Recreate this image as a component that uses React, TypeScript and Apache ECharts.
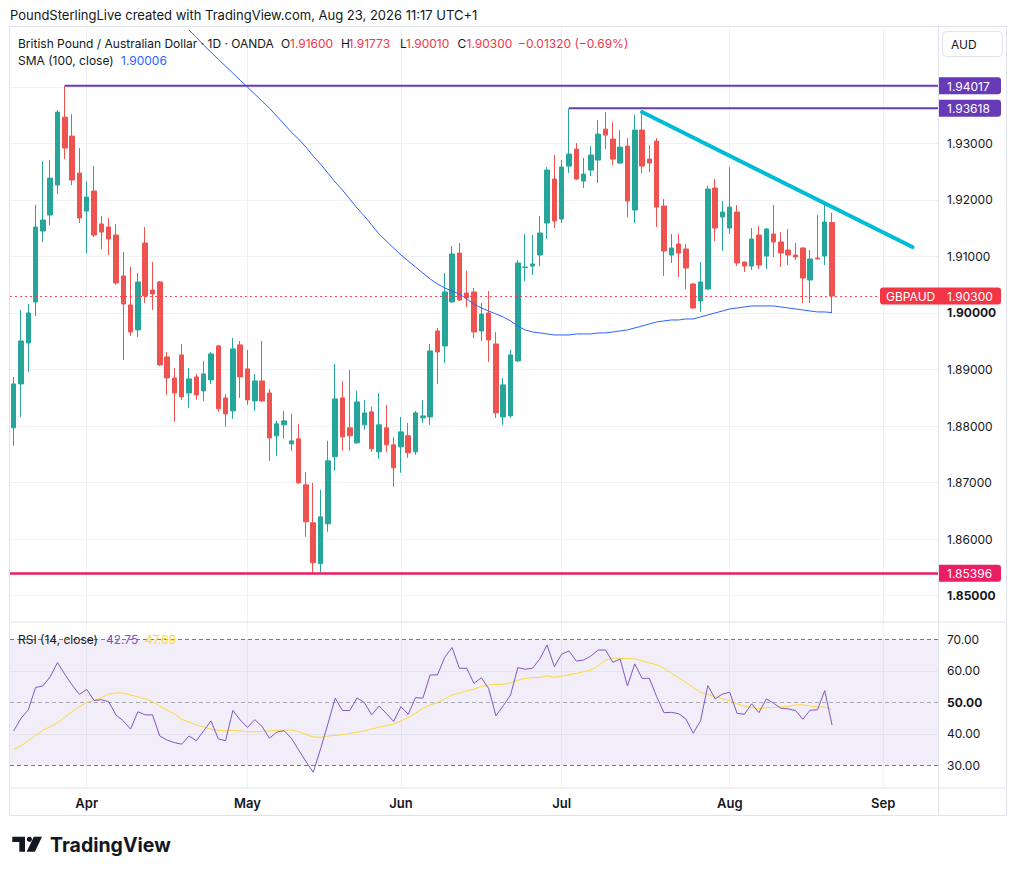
import React, { useEffect, useRef } from "react";
import * as echarts from "echarts";

const FONT = "Inter, 'Noto Sans', sans-serif";
const TEXT = "#131722";
const UP = "#26a69a";
const DOWN = "#ef5350";

// ---- categories ----
const startDate = [2026, 2, 18]; // 18 Mar 2026 (UTC)
const futureBars = 14;
const monthAbbr = ["Jan", "Feb", "Mar", "Apr", "May", "Jun", "Jul", "Aug", "Sep", "Oct", "Nov", "Dec"];

// ---- daily candles: [open, high, low, close] ----
const candles: number[][] = [
  [1.87968, 1.88869, 1.8765, 1.88745],
  [1.88745, 1.90053, 1.88162, 1.89505],
  [1.8947, 1.90159, 1.88957, 1.9],
  [1.90194, 1.91908, 1.89947, 1.9152],
  [1.91449, 1.92686, 1.91255, 1.91643],
  [1.91732, 1.92704, 1.91555, 1.92385],
  [1.92262, 1.93587, 1.92103, 1.93552],
  [1.93463, 1.94017, 1.92721, 1.92916],
  [1.93128, 1.93516, 1.92262, 1.9235],
  [1.92474, 1.92916, 1.9159, 1.91679],
  [1.91802, 1.92332, 1.9106, 1.9205],
  [1.92156, 1.92597, 1.91343, 1.91378],
  [1.91573, 1.91714, 1.91131, 1.91431],
  [1.9152, 1.91679, 1.91025, 1.91308],
  [1.91378, 1.91573, 1.905, 1.9053],
  [1.90654, 1.91078, 1.8917, 1.90159],
  [1.90141, 1.90813, 1.89594, 1.89664],
  [1.897, 1.90707, 1.89576, 1.90548],
  [1.91237, 1.9152, 1.90177, 1.903],
  [1.90406, 1.90901, 1.90053, 1.90336],
  [1.90548, 1.90565, 1.89063, 1.89081],
  [1.89223, 1.89311, 1.88551, 1.88851],
  [1.88851, 1.89028, 1.88074, 1.88586],
  [1.89258, 1.89452, 1.88463, 1.88516],
  [1.88586, 1.89028, 1.88321, 1.88834],
  [1.88869, 1.88922, 1.88463, 1.88551],
  [1.88622, 1.89152, 1.88445, 1.88922],
  [1.88816, 1.89311, 1.88745, 1.89276],
  [1.89417, 1.89435, 1.88251, 1.88304],
  [1.88498, 1.88569, 1.87986, 1.88215],
  [1.88268, 1.89558, 1.88127, 1.89364],
  [1.89435, 1.89505, 1.88498, 1.88869],
  [1.89011, 1.89346, 1.88374, 1.88463],
  [1.88445, 1.88922, 1.88268, 1.88798],
  [1.88798, 1.89505, 1.88427, 1.88445],
  [1.88586, 1.88657, 1.87385, 1.87791],
  [1.87827, 1.88092, 1.87473, 1.88039],
  [1.88021, 1.88268, 1.87774, 1.88092],
  [1.87685, 1.88215, 1.87561, 1.87738],
  [1.87774, 1.88039, 1.86978, 1.86996],
  [1.86961, 1.8719, 1.86042, 1.86307],
  [1.86289, 1.86996, 1.85396, 1.85583],
  [1.85565, 1.86872, 1.8542, 1.86395],
  [1.86272, 1.87738, 1.8613, 1.87385],
  [1.87456, 1.89099, 1.87208, 1.8848],
  [1.88498, 1.88798, 1.87561, 1.87809],
  [1.87968, 1.88993, 1.87561, 1.87827],
  [1.87703, 1.88622, 1.87685, 1.88427],
  [1.88021, 1.88463, 1.87933, 1.88233],
  [1.88251, 1.88339, 1.87544, 1.87597],
  [1.87544, 1.88586, 1.8742, 1.88021],
  [1.87968, 1.88374, 1.87544, 1.87668],
  [1.87668, 1.87809, 1.86926, 1.87261],
  [1.87632, 1.88162, 1.87173, 1.87897],
  [1.87827, 1.88056, 1.87438, 1.87526],
  [1.87544, 1.88268, 1.87491, 1.88233],
  [1.88145, 1.88463, 1.88056, 1.8818],
  [1.88162, 1.89452, 1.88021, 1.89329],
  [1.89682, 1.89735, 1.88745, 1.89311],
  [1.89417, 1.90707, 1.89117, 1.90371],
  [1.90194, 1.91184, 1.9018, 1.91043],
  [1.9106, 1.91237, 1.90212, 1.9023],
  [1.90353, 1.90742, 1.90106, 1.90265],
  [1.90371, 1.90442, 1.89558, 1.89664],
  [1.89682, 1.90177, 1.89505, 1.89982],
  [1.9, 1.90389, 1.89134, 1.89523],
  [1.89452, 1.89664, 1.88145, 1.88233],
  [1.88162, 1.88851, 1.88021, 1.88728],
  [1.8818, 1.89346, 1.88145, 1.89258],
  [1.89152, 1.90937, 1.89134, 1.90884],
  [1.90804, 1.91396, 1.90565, 1.90813],
  [1.9083, 1.91378, 1.90671, 1.90866],
  [1.91025, 1.91714, 1.9083, 1.91414],
  [1.9159, 1.9258, 1.91308, 1.92527],
  [1.92368, 1.92792, 1.91502, 1.91626],
  [1.91661, 1.92704, 1.9159, 1.9258],
  [1.92597, 1.93618, 1.92474, 1.9281],
  [1.92898, 1.93004, 1.9235, 1.92368],
  [1.92332, 1.92739, 1.92209, 1.92456],
  [1.92527, 1.92951, 1.92421, 1.92792],
  [1.92704, 1.9341, 1.92297, 1.93163],
  [1.93251, 1.93552, 1.92898, 1.93145],
  [1.93075, 1.93375, 1.92615, 1.92721],
  [1.92651, 1.93234, 1.9264, 1.92933],
  [1.92951, 1.93092, 1.91696, 1.91979],
  [1.9182, 1.93499, 1.9159, 1.93234],
  [1.93234, 1.9357, 1.92474, 1.92597],
  [1.92721, 1.92969, 1.92491, 1.92651],
  [1.93039, 1.93092, 1.9152, 1.91873],
  [1.91891, 1.92014, 1.90654, 1.91096],
  [1.91025, 1.91396, 1.90884, 1.91149],
  [1.91219, 1.91396, 1.90636, 1.9106],
  [1.91131, 1.91219, 1.90424, 1.90795],
  [1.90512, 1.9053, 1.90071, 1.90088],
  [1.90212, 1.90901, 1.90018, 1.90548],
  [1.90424, 1.92244, 1.90406, 1.92191],
  [1.92209, 1.92368, 1.91272, 1.91502],
  [1.91696, 1.91979, 1.91096, 1.91785],
  [1.91502, 1.9258, 1.91396, 1.91873],
  [1.91785, 1.91908, 1.9083, 1.90884],
  [1.90901, 1.90905, 1.90724, 1.9083],
  [1.9083, 1.91502, 1.9076, 1.91308],
  [1.91378, 1.91537, 1.90777, 1.90848],
  [1.91007, 1.91502, 1.90777, 1.91484],
  [1.91396, 1.91908, 1.9099, 1.91255],
  [1.91255, 1.91431, 1.90813, 1.9106],
  [1.91113, 1.91484, 1.90848, 1.91025],
  [1.91025, 1.91237, 1.90937, 1.9099],
  [1.91149, 1.9116, 1.90177, 1.90618],
  [1.90583, 1.91113, 1.90177, 1.90954],
  [1.90972, 1.91732, 1.9095, 1.90954],
  [1.91007, 1.91926, 1.90848, 1.91608],
  [1.916, 1.91773, 1.9001, 1.903],
];

// ---- SMA(100, close) (null = above the pane) ----
const sma100: (number | null)[] = [
  null, null, null, null, null, null, null, null, null, null,
  null, null, null, null, null, null, null, null, null, null,
  null, null, null, null, 1.95001, 1.94877, 1.94736, 1.94612, 1.94488, 1.94364,
  1.94241, 1.94117, 1.93993, 1.9387, 1.93746, 1.93622, 1.93481, 1.9334, 1.93198, 1.93075,
  1.92933, 1.92774, 1.92633, 1.92474, 1.92315, 1.92173, 1.92014, 1.91855, 1.91714, 1.91555,
  1.91396, 1.91272, 1.91149, 1.91025, 1.90919, 1.90813, 1.90707, 1.90601, 1.90512, 1.90442,
  1.90389, 1.90336, 1.90247, 1.90159, 1.90088, 1.90035, 1.89982, 1.89929, 1.89859, 1.8977,
  1.897, 1.89664, 1.89647, 1.89629, 1.89611, 1.89611, 1.89611, 1.89629, 1.89629, 1.89629,
  1.89647, 1.89647, 1.89664, 1.89682, 1.897, 1.89735, 1.8977, 1.89806, 1.89841, 1.89859,
  1.89876, 1.89876, 1.89894, 1.89894, 1.89929, 1.89965, 1.9, 1.90035, 1.90071, 1.90088,
  1.90106, 1.90124, 1.90124, 1.90124, 1.90124, 1.90106, 1.90088, 1.90071, 1.90053, 1.90035,
  1.90018, 1.90018, 1.90006,
];

// ---- RSI(14) and its moving average ----
const rsi14: number[] = [
  40.9, 44.9, 47.6, 54.7, 55.2, 58.1, 62.6, 58.9, 55.5, 52.5,
  54.1, 50.6, 50.8, 50.2, 46.0, 44.1, 41.5, 47.0, 46.0, 46.0,
  39.3, 38.0, 37.2, 36.7, 39.3, 37.8, 40.9, 44.1, 38.4, 37.8,
  47.4, 44.4, 42.0, 44.5, 42.3, 38.6, 40.5, 41.0, 38.6, 34.9,
  31.2, 27.8, 35.2, 43.1, 51.3, 47.4, 47.4, 51.4, 49.9, 46.0,
  48.8, 46.5, 43.9, 48.6, 46.2, 51.5, 51.3, 58.7, 58.7, 64.3,
  67.4, 60.8, 60.8, 56.0, 57.8, 54.4, 45.7, 48.9, 52.3, 61.0,
  60.5, 60.8, 63.7, 68.2, 61.3, 65.3, 66.3, 63.1, 63.4, 64.7,
  66.6, 66.6, 62.7, 63.7, 55.2, 62.2, 57.6, 57.6, 51.8, 46.7,
  46.8, 46.4, 44.7, 40.2, 44.1, 55.3, 51.1, 52.6, 53.2, 46.5,
  46.2, 49.5, 46.7, 51.1, 49.7, 48.1, 47.9, 47.4, 44.6, 47.5,
  47.6, 53.7, 42.75,
];
const rsiMa: number[] = [
  35.1, 36.2, 37.8, 39.5, 41.2, 42.2, 43.5, 45.3, 47.0, 48.6,
  49.9, 50.6, 51.5, 52.6, 53.0, 52.9, 52.3, 51.7, 51.1, 50.2,
  48.8, 47.5, 46.4, 44.6, 43.7, 42.8, 42.2, 41.5, 41.1, 40.9,
  41.1, 40.9, 40.7, 40.6, 40.8, 40.9, 41.1, 41.2, 41.2, 40.7,
  39.8, 39.0, 38.9, 39.3, 39.5, 39.7, 40.1, 40.5, 40.9, 41.5,
  42.1, 42.6, 43.1, 44.1, 45.2, 46.5, 48.1, 49.2, 49.9, 51.1,
  52.3, 52.9, 53.6, 54.2, 55.0, 55.5, 55.7, 55.7, 56.2, 57.0,
  57.6, 57.8, 57.9, 58.4, 57.9, 58.3, 58.7, 59.2, 59.7, 60.3,
  61.6, 63.4, 64.0, 64.0, 63.8, 63.8, 63.1, 62.5, 61.9, 60.8,
  59.2, 57.8, 56.3, 54.7, 53.1, 52.5, 51.7, 51.1, 50.5, 49.5,
  48.8, 48.3, 47.9, 48.3, 48.3, 48.6, 48.6, 49.2, 49.2, 48.8,
  48.5, 48.5, 47.69,
];

// ---- axes / levels ----
const priceMin = 1.84535;
const priceMax = 1.95057;
const priceTicks = [1.85, 1.86, 1.87, 1.88, 1.89, 1.9, 1.91, 1.92, 1.93];
const priceGridLines = [1.85, 1.86, 1.87, 1.88, 1.89, 1.9, 1.91, 1.92, 1.93, 1.94];
const boldPriceTicks = ["1.85000", "1.90000"];
const rsiMin = 22.79;
const rsiMax = 75.49;
const rsiTicks = [30, 40, 50, 60, 70];

const highLevel = { index: 7, price: 1.94017 };
const julyHighLevel = { index: 76, price: 1.93618 };
const lowLevel = 1.85396;
const lastClose = 1.903;
const trendStart = { index: 86, price: 1.93553 };
const trendEnd = { index: 123, price: 1.91166 };

function buildDates(n: number): string[] {
  const out: string[] = [];
  const d = new Date(Date.UTC(startDate[0], startDate[1], startDate[2]));
  while (out.length < n) {
    const wd = d.getUTCDay();
    if (wd !== 0 && wd !== 6) out.push(d.toISOString().slice(0, 10));
    d.setUTCDate(d.getUTCDate() + 1);
  }
  return out;
}

export default function App() {
  const ref = useRef<HTMLDivElement>(null);

  useEffect(() => {
    if (!ref.current) return;
    const chart = echarts.init(ref.current, null, { renderer: "svg" });

    const dates = buildDates(candles.length + futureBars);
    const monthLabels = dates.map((d, i) => {
      if (i === 0) return "";
      const m = Number(d.slice(5, 7));
      const pm = Number(dates[i - 1].slice(5, 7));
      return m !== pm ? monthAbbr[m - 1] : "";
    });
    const monthIdx = monthLabels.map((l, i) => (l ? i : -1)).filter((i) => i >= 0);
    const nulls = dates.map(() => null);

    const vGrid = monthIdx.map((i) => ({ xAxis: dates[i] }));
    const gridColor = "#f0f1f4";

    const option: any = {
      animation: false,
      backgroundColor: "#ffffff",
      textStyle: { fontFamily: FONT },
      grid: [
        { left: 10, top: 27, width: 928, height: 595, containLabel: false, outerBoundsMode: "none" },
        { left: 10, top: 622, width: 928, height: 166, containLabel: false, outerBoundsMode: "none" },
      ],
      xAxis: [
        {
          type: "category", gridIndex: 0, data: dates, boundaryGap: true,
          axisLine: { show: false }, axisTick: { show: false }, axisLabel: { show: false }, splitLine: { show: false },
        },
        {
          type: "category", gridIndex: 1, data: dates, boundaryGap: true,
          axisLine: { show: false }, axisTick: { show: false }, splitLine: { show: false },
          axisLabel: {
            interval: (i: number) => monthLabels[i] !== "",
            formatter: (_v: string, i: number) => monthLabels[i],
            color: TEXT, fontSize: 13, fontWeight: 600, fontFamily: FONT, margin: 8,
          },
        },
      ],
      yAxis: [
        {
          type: "value", gridIndex: 0, position: "right", min: priceMin, max: priceMax, scale: true,
          splitLine: { show: false }, axisLine: { show: false }, axisTick: { show: false },
          axisLabel: {
            customValues: priceTicks, margin: 9, color: TEXT, fontSize: 12, fontFamily: FONT,
            formatter: (v: number) => {
              const s = v.toFixed(5);
              return boldPriceTicks.includes(s) ? `{b|${s}}` : s;
            },
            rich: { b: { fontWeight: "bold", fontSize: 12, color: TEXT, fontFamily: FONT } },
          },
        },
        {
          type: "value", gridIndex: 1, position: "right", min: rsiMin, max: rsiMax, scale: true,
          splitLine: { show: false }, axisLine: { show: false }, axisTick: { show: false },
          axisLabel: {
            customValues: rsiTicks, margin: 9, color: TEXT, fontSize: 12, fontFamily: FONT,
            formatter: (v: number) => {
              const s = v.toFixed(2);
              return v === 50 ? `{b|${s}}` : s;
            },
            rich: { b: { fontWeight: "bold", fontSize: 12, color: TEXT, fontFamily: FONT } },
          },
        },
      ],
      series: [
        {
          type: "line", xAxisIndex: 0, yAxisIndex: 0, data: nulls, showSymbol: false, silent: true,
          markLine: {
            z: 1, silent: true, symbol: ["none", "none"], label: { show: false }, precision: 5,
            lineStyle: { color: gridColor, width: 1, type: "solid" },
            data: [...vGrid, ...priceGridLines.map((v) => ({ yAxis: v }))],
          },
        },
        {
          type: "candlestick", xAxisIndex: 0, yAxisIndex: 0, barWidth: 5,
          data: candles.map(([o, h, l, c]) => [o, c, l, h]),
          itemStyle: { color: UP, color0: DOWN, borderColor: UP, borderColor0: DOWN, borderWidth: 1 },
          markLine: {
            silent: true, symbol: ["none", "none"], label: { show: false }, precision: 5,
            data: [
              { yAxis: lastClose, lineStyle: { color: "#f23645", type: [2, 3], width: 1, opacity: 0.9 } },
              { yAxis: lowLevel, lineStyle: { color: "#e91e63", type: "solid", width: 2.5 } },
              [
                { coord: [dates[trendStart.index], trendStart.price], lineStyle: { color: "#00bcd4", width: 4, type: "solid", cap: "round" } },
                { coord: [dates[trendEnd.index], trendEnd.price] },
              ],
            ],
          },
        },
        {
          type: "line", xAxisIndex: 0, yAxisIndex: 0, data: sma100, showSymbol: false, silent: true,
          lineStyle: { color: "#2962ff", width: 1 }, connectNulls: false, clip: true, z: 3,
        },
        {
          type: "line", xAxisIndex: 1, yAxisIndex: 1, data: nulls, showSymbol: false, silent: true,
          markArea: {
            silent: true, itemStyle: { color: "rgba(126,87,194,0.1)" },
            data: [[{ yAxis: 70 }, { yAxis: 30 }]],
          },
          markLine: {
            z: 1, silent: true, symbol: ["none", "none"], label: { show: false },
            data: [
              ...vGrid.map((d) => ({ ...d, lineStyle: { color: "rgba(42,46,57,0.06)", width: 1, type: "solid" } })),
              { yAxis: 40, lineStyle: { color: "rgba(42,46,57,0.06)", width: 1, type: "solid" } },
              { yAxis: 60, lineStyle: { color: "rgba(42,46,57,0.06)", width: 1, type: "solid" } },
              { yAxis: 70, lineStyle: { color: "#787b86", width: 1, type: [4, 3] } },
              { yAxis: 30, lineStyle: { color: "#787b86", width: 1, type: [4, 3] } },
              { yAxis: 50, lineStyle: { color: "rgba(120,123,134,0.6)", width: 1, type: [4, 3] } },
            ],
          },
        },
        {
          type: "line", xAxisIndex: 1, yAxisIndex: 1, data: rsiMa, showSymbol: false, silent: true,
          lineStyle: { color: "#fdd835", width: 1 }, z: 3,
        },
        {
          type: "line", xAxisIndex: 1, yAxisIndex: 1, data: rsi14, showSymbol: false, silent: true,
          lineStyle: { color: "#7e57c2", width: 1 }, z: 4,
        },
      ],
    };

    chart.setOption(option);

    const py = (v: number) => chart.convertToPixel({ yAxisIndex: 0 }, v) as number;
    const px = (i: number) => chart.convertToPixel({ xAxisIndex: 0 }, dates[i]) as number;

    const txt = (x: number, y: number, text: string, fill: string, size = 12, weight: any = "normal", z = 100) => ({
      type: "text", x, y, silent: true, z,
      style: { text, fill, fontSize: size, fontFamily: FONT, fontWeight: weight, verticalAlign: "middle", align: "left" },
    });
    const hline = (x1: number, y: number, x2: number, stroke: string, lw = 1, z = 50) => ({
      type: "line", silent: true, z, shape: { x1, y1: y, x2, y2: y }, style: { stroke, lineWidth: lw },
    });
    const tag = (price: number, fill: string, label: string) => {
      const y = py(price);
      return [
        { type: "rect", silent: true, z: 110, shape: { x: 939, y: y - 8.5, width: 62, height: 17, r: [0, 3, 3, 0] }, style: { fill } },
        txt(947, y + 0.5, label, "#ffffff", 12, "normal", 111),
      ];
    };

    const yHigh = py(highLevel.price);
    const yJul = py(julyHighLevel.price);
    const yLast = py(lastClose);
    const red = "#f23645";
    const border = "#e0e3eb";

    const elements: any[] = [
      // frame
      { type: "rect", silent: true, z: 50, shape: { x: 9.5, y: 26.5, width: 997, height: 789 }, style: { fill: "transparent", stroke: border, lineWidth: 1 } },
      hline(10, 622, 1006, border),
      hline(10, 788, 1006, border),
      { type: "line", silent: true, z: 50, shape: { x1: 938.5, y1: 27, x2: 938.5, y2: 815 }, style: { stroke: border, lineWidth: 1 } },
      // resistance lines
      hline(px(highLevel.index), yHigh, 938, "#673ab7", 2, 60),
      hline(px(julyHighLevel.index), yJul, 938, "#673ab7", 2, 60),
      // tags
      ...tag(highLevel.price, "#673ab7", "1.94017"),
      ...tag(julyHighLevel.price, "#673ab7", "1.93618"),
      ...tag(lowLevel, "#e91e63", "1.85396"),
      { type: "rect", silent: true, z: 110, shape: { x: 880, y: yLast - 8.5, width: 121, height: 17, r: 3 }, style: { fill: red } },
      txt(886, yLast + 0.5, "GBPAUD", "#ffffff", 12, "normal", 111),
      txt(947, yLast + 0.5, "1.90300", "#ffffff", 12, "normal", 111),
      // currency box
      { type: "rect", silent: true, z: 100, shape: { x: 942.5, y: 31.5, width: 60, height: 25, r: 4 }, style: { fill: "#ffffff", stroke: border, lineWidth: 1 } },
      txt(951, 44, "AUD", TEXT, 12),
      // header
      txt(10, 15, "PoundSterlingLive created with TradingView.com, Aug 23, 2026 11:17 UTC+1", TEXT, 13),
      // price legend
      txt(18, 43, "British Pound / Australian Dollar · 1D · OANDA", TEXT, 12),
      txt(281, 43, "O", TEXT, 12), txt(290, 43, "1.91600", red, 12),
      txt(341, 43, "H", TEXT, 12), txt(348.5, 43, "1.91773", red, 12),
      txt(400, 43, "L", TEXT, 12), txt(406, 43, "1.90010", red, 12),
      txt(457.5, 43, "C", TEXT, 12), txt(466.5, 43, "1.90300", red, 12),
      txt(518, 43, "\u22120.01320 (\u22120.69%)", red, 12),
      txt(18, 60, "SMA (100, close)", TEXT, 12),
      txt(121, 60, "1.90006", "#2962ff", 12),
      // RSI legend
      txt(18, 639, "RSI (14, close)", TEXT, 12),
      txt(106, 639, "42.75", "#7e57c2", 12),
      txt(145, 639, "47.69", "#fdd835", 12),
      // TradingView logo
      { type: "polygon", silent: true, z: 100, shape: { points: [[12.3, 836.7], [25, 836.7], [25, 851.7], [19.3, 851.7], [19.3, 841.9], [12.3, 841.9]] }, style: { fill: TEXT } },
      { type: "circle", silent: true, z: 100, shape: { cx: 29.4, cy: 839.3, r: 2.6 }, style: { fill: TEXT } },
      { type: "polygon", silent: true, z: 100, shape: { points: [[33.8, 836.7], [42, 836.7], [34.9, 851.7], [26.7, 851.7]] }, style: { fill: TEXT } },
      txt(50, 845, "TradingView", TEXT, 19.5, "bold"),
    ];

    chart.setOption({ graphic: { elements } });

    return () => chart.dispose();
  }, []);

  return (
    <div
      ref={ref}
      style={{ position: "fixed", left: 0, top: 0, width: 1016, height: 875, background: "#ffffff" }}
    />
  );
}
